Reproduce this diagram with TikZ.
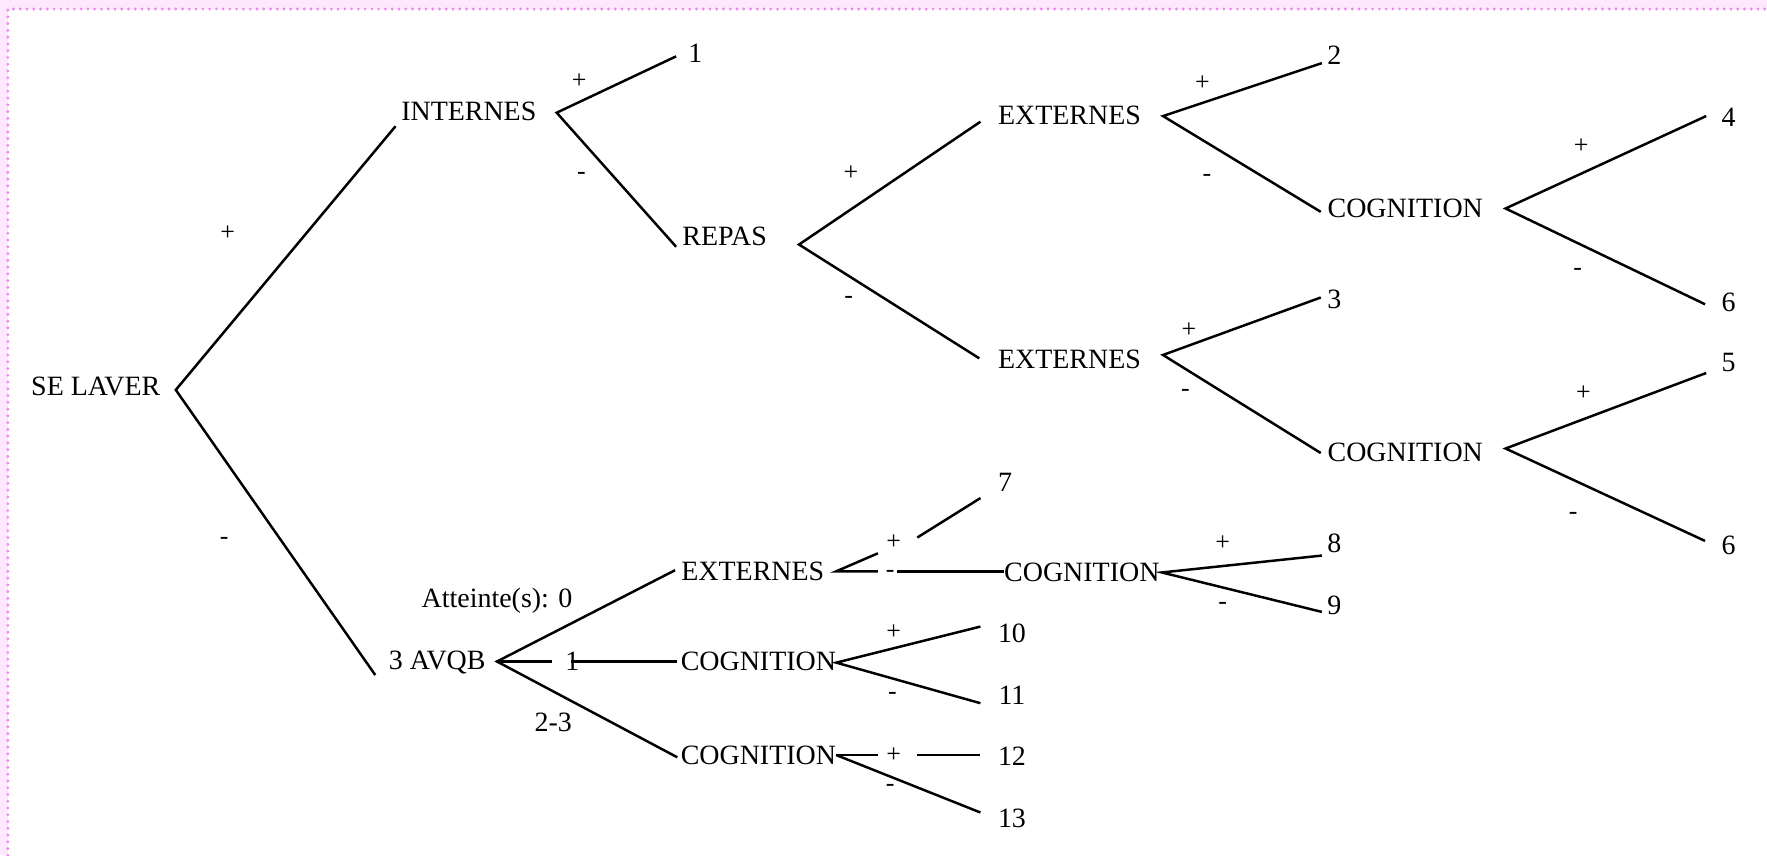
\documentclass[tikz,border=0pt]{standalone}
\usepackage{fontspec}
\setmainfont{Liberation Serif}
\definecolor{pinkbg}{RGB}{253,232,253}
\definecolor{pinkdot}{RGB}{246,128,246}
\begin{document}
\begin{tikzpicture}[x=0.5pt,y=-0.5pt,
  lbl/.style={inner sep=0pt, font=\fontsize{12.4}{14}\selectfont},
  sgn/.style={inner sep=0pt, font=\fontsize{11.5}{13}\selectfont},
  br/.style={line width=1.1pt}]
\useasboundingbox (0,0) rectangle (1568,759);
% frame
\fill[pinkbg] (0,0) rectangle (1568,8);
\fill[pinkbg] (0,0) rectangle (7,759);
\draw[pinkdot, line width=1.4pt, line cap=round, dash pattern=on 0pt off 3pt] (7,759) -- (7,8) -- (1568,8);

% word nodes
\node[lbl] (SL)   at (85,343)   {SE LAVER};
\node[lbl] (INT)  at (416,99)   {INTERNES};
\node[lbl] (REP)  at (643,210)  {REPAS};
\node[lbl] (EX1)  at (949,102)  {EXTERNES};
\node[lbl] (EX2)  at (949,319)  {EXTERNES};
\node[lbl] (CO1)  at (1247,185) {COGNITION};
\node[lbl] (CO2)  at (1247,401) {COGNITION};
\node[lbl] (AVQB) at (388,588)  {3 AVQB};
\node[lbl] (EX3)  at (668,507)  {EXTERNES};
\node[lbl] (CO3)  at (673,587)  {COGNITION};
\node[lbl] (CO4)  at (673,670)  {COGNITION};
\node[lbl] (CO5)  at (960,508)  {COGNITION};
\node[lbl] (ATT)  at (441,533)  {Atteinte(s): 0};
\node[lbl] (L23)  at (491,641)  {2-3};
\node[lbl] (L1b)  at (508,587)  {1};
% outcome numbers
\node[lbl] (n1)  at (617,47)   {1};
\node[lbl] (n2)  at (1184,49)  {2};
\node[lbl] (n3)  at (1184,266) {3};
\node[lbl] (n4)  at (1534,104) {4};
\node[lbl] (n6a) at (1534,268) {6};
\node[lbl] (n5)  at (1534,322) {5};
\node[lbl] (n6b) at (1534,484) {6};
\node[lbl] (n7)  at (892,428)  {7};
\node[lbl] (n8)  at (1184,482) {8};
\node[lbl] (n9)  at (1184,537) {9};
\node[lbl] (n10) at (898,562)  {10};
\node[lbl] (n11) at (898,617)  {11};
\node[lbl] (n12) at (898,671)  {12};
\node[lbl] (n13) at (898,726)  {13};

% junction and entry coordinates
\coordinate (jSL)  at (156,346);
\coordinate (jINT) at (494,100);
\coordinate (jREP) at (709,217);
\coordinate (jEX1) at (1032,103);
\coordinate (jEX2) at (1032,315);
\coordinate (jCO1) at (1336,185);
\coordinate (jCO2) at (1336,398);
\coordinate (jAV)  at (441,587);
\coordinate (jEX3) at (742,507);
\coordinate (jCO3) at (742,588);
\coordinate (jCO4) at (742,670);
\coordinate (jCO5) at (1031,508);

\coordinate (eINT) at (351,112);
\coordinate (eAV)  at (333,599);
\coordinate (eREP) at (600,219);
\coordinate (e1)   at (600,50);
\coordinate (eEX1) at (870,108);
\coordinate (eEX2) at (869,318);
\coordinate (e2)   at (1173,56);
\coordinate (eCO1) at (1172,188);
\coordinate (e3)   at (1172,264);
\coordinate (eCO2) at (1172,402);
\coordinate (e4)   at (1514,103);
\coordinate (e6a)  at (1513,270);
\coordinate (e5)   at (1514,331);
\coordinate (e6b)  at (1513,480);
\coordinate (eEX3) at (599,506);
\coordinate (eCO3) at (601,587);
\coordinate (eCO4) at (601,672);
\coordinate (a1)   at (490,587);
\coordinate (a2)   at (507,587);
\coordinate (p7a)  at (779,491);
\coordinate (p7b)  at (814,477);
\coordinate (e7)   at (870,442);
\coordinate (m5a)  at (779,507);
\coordinate (m5b)  at (796,507);
\coordinate (eCO5) at (891,507);
\coordinate (e8)   at (1173,493);
\coordinate (e9)   at (1173,543);
\coordinate (e10)  at (870,556);
\coordinate (e11)  at (870,624);
\coordinate (p12a) at (779,670);
\coordinate (p12b) at (814,670);
\coordinate (e12)  at (870,670);
\coordinate (e13)  at (870,721);

% branches
\draw[br] (eINT) -- (jSL) -- (eAV);
\draw[br] (e1) -- (jINT) -- (eREP);
\draw[br] (eEX1) -- (jREP) -- (eEX2);
\draw[br] (e2) -- (jEX1) -- (eCO1);
\draw[br] (e3) -- (jEX2) -- (eCO2);
\draw[br] (e4) -- (jCO1) -- (e6a);
\draw[br] (e5) -- (jCO2) -- (e6b);
\draw[br] (eEX3) -- (jAV) -- (eCO4);
\draw[br] (jAV) -- (a1);
\draw[br] (a2) -- (eCO3);
\draw[br] (p7a) -- (jEX3) -- (m5a);
\draw[br] (p7b) -- (e7);
\draw[br] (m5b) -- (eCO5);
\draw[br] (e8) -- (jCO5) -- (e9);
\draw[br] (e10) -- (jCO3) -- (e11);
\draw[br] (jCO4) -- (p12a);
\draw[br] (p12b) -- (e12);
\draw[br] (jCO4) -- (e13);

% signs
\node[sgn] (s1)  at (202,207)  {+};
\node[sgn] (s2)  at (199,480)  {-};
\node[sgn] (s3)  at (514,72)   {+};
\node[sgn] (s4)  at (516,156)  {-};
\node[sgn] (s5)  at (755,154)  {+};
\node[sgn] (s6)  at (753,266)  {-};
\node[sgn] (s7)  at (1067,74)  {+};
\node[sgn] (s8)  at (1071,158) {-};
\node[sgn] (s9)  at (1055,293) {+};
\node[sgn] (s10) at (1052,349) {-};
\node[sgn] (s11) at (1403,130) {+};
\node[sgn] (s12) at (1400,241) {-};
\node[sgn] (s13) at (1405,349) {+};
\node[sgn] (s14) at (1396,458) {-};
\node[sgn] (s15) at (793,481)  {+};
\node[sgn] (s16) at (790,509)  {-};
\node[sgn] (s17) at (1085,482) {+};
\node[sgn] (s18) at (1085,538) {-};
\node[sgn] (s19) at (793,561)  {+};
\node[sgn] (s20) at (792,618)  {-};
\node[sgn] (s21) at (793,670)  {+};
\node[sgn] (s22) at (790,699)  {-};
\end{tikzpicture}
\end{document}
